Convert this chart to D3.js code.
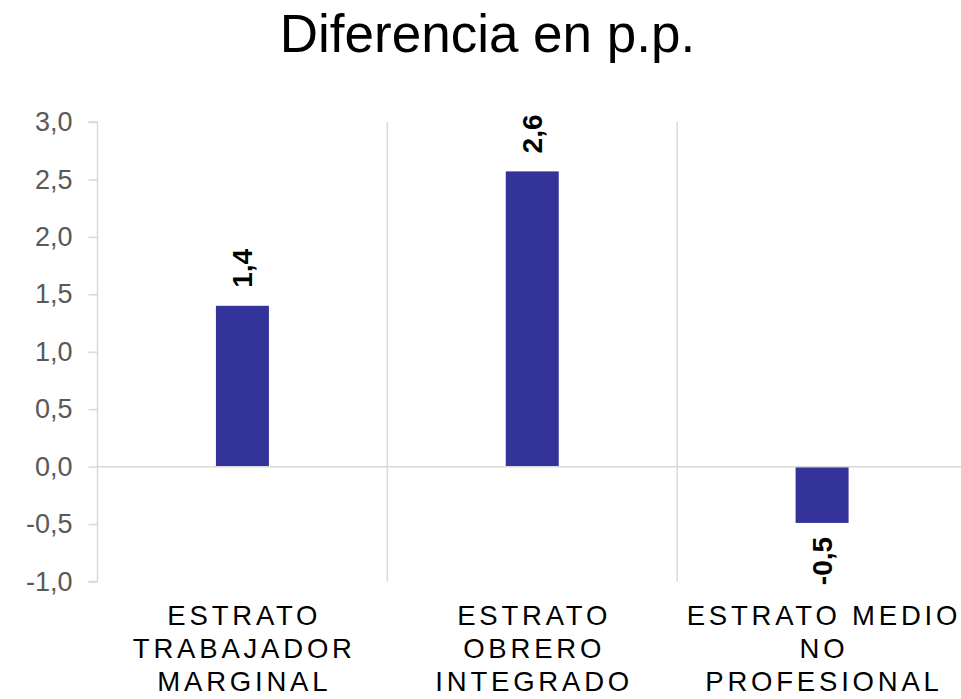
<!DOCTYPE html>
<html><head><meta charset="utf-8">
<script src="https://cdn.jsdelivr.net/npm/d3@7"></script>
<style>
body{margin:0;background:#fff;}
svg{display:block;}
</style></head>
<body>
<svg id="chart" width="961" height="699"></svg>
<script>
const title = "Diferencia en p.p.";
const categories = [
  ["ESTRATO", "TRABAJADOR", "MARGINAL"],
  ["ESTRATO", "OBRERO", "INTEGRADO"],
  ["ESTRATO MEDIO", "NO", "PROFESIONAL"]
];
const values = [1.4, 2.57, -0.49];
const valueLabels = ["1,4", "2,6", "-0,5"];
const yTicks = [-1, -0.5, 0, 0.5, 1, 1.5, 2, 2.5, 3];

(function () {
const svg = d3.select("#chart");
const pLeft = 97.5, pRight = 967, pTop = 122, pBottom = 581.5;

const x = d3.scaleBand().domain(d3.range(categories.length)).range([pLeft, pRight]).paddingInner(0).paddingOuter(0);
const y = d3.scaleLinear().domain([-1, 3]).range([pBottom, pTop]);
const fmt = d => d.toFixed(1).replace(".", ",");

// title
svg.append("text").attr("x", 487.5).attr("y", 52).attr("text-anchor", "middle")
  .attr("font-family", "Liberation Sans, Arial, sans-serif").attr("font-size", 53).attr("fill", "#000")
  .text(title);

// vertical separators
svg.append("g").selectAll("line").data([1, 2]).join("line")
  .attr("x1", d => x(d)).attr("x2", d => x(d))
  .attr("y1", pTop).attr("y2", pBottom)
  .attr("stroke", "#d9d9d9").attr("stroke-width", 1.5);

// y axis
const yAxis = d3.axisLeft(y).tickValues(yTicks).tickFormat(fmt).tickSize(9).tickPadding(16);
const ga = svg.append("g").attr("transform", `translate(${pLeft},0)`).call(yAxis);
ga.select(".domain").attr("stroke", "#d9d9d9").attr("stroke-width", 1.5).attr("d", `M-9,${pTop}H0V${pBottom}H-9`);
ga.selectAll(".tick line").attr("stroke", "#d9d9d9").attr("stroke-width", 1.5);
ga.selectAll(".tick text").attr("font-family", "Liberation Sans, Arial, sans-serif").attr("font-size", 27).attr("fill", "#595959");

// bars
const bw = 53;
svg.append("g").selectAll("rect").data(values).join("rect")
  .attr("x", (d, i) => x(i) + x.bandwidth() / 2 - bw / 2)
  .attr("width", bw)
  .attr("y", d => y(Math.max(0, d)))
  .attr("height", d => Math.abs(y(d) - y(0)))
  .attr("fill", "#333399");

// zero line
svg.append("line").attr("x1", pLeft).attr("x2", pRight).attr("y1", y(0)).attr("y2", y(0))
  .attr("stroke", "#d9d9d9").attr("stroke-width", 1.5);

// data labels (rotated)
svg.append("g").selectAll("text").data(values).join("text")
  .attr("transform", (d, i) => {
    const cx = x(i) + x.bandwidth() / 2 + 10;
    const cy = d >= 0 ? y(d) - 18 : y(d) + 14;
    return `translate(${cx},${cy}) rotate(-90)`;
  })
  .attr("text-anchor", d => d >= 0 ? "start" : "end")
  .attr("font-family", "Liberation Sans, Arial, sans-serif").attr("font-weight", "bold")
  .attr("font-size", 28).attr("fill", "#000")
  .text((d, i) => valueLabels[i]);

// category labels
const cg = svg.append("g").selectAll("text").data(categories).join("text")
  .attr("x", (d, i) => x(i) + x.bandwidth() / 2)
  .attr("y", 625)
  .attr("text-anchor", "middle")
  .attr("font-family", "Liberation Sans, Arial, sans-serif")
  .attr("font-size", 27.5).attr("letter-spacing", "3.8px").attr("fill", "#000");
cg.selectAll("tspan").data(d => d).join("tspan")
  .attr("x", function () { return +d3.select(this.parentNode).attr("x") + 1.9; })
  .attr("dy", (d, i) => i === 0 ? 0 : 33)
  .text(d => d);
})();
</script>
</body></html>
